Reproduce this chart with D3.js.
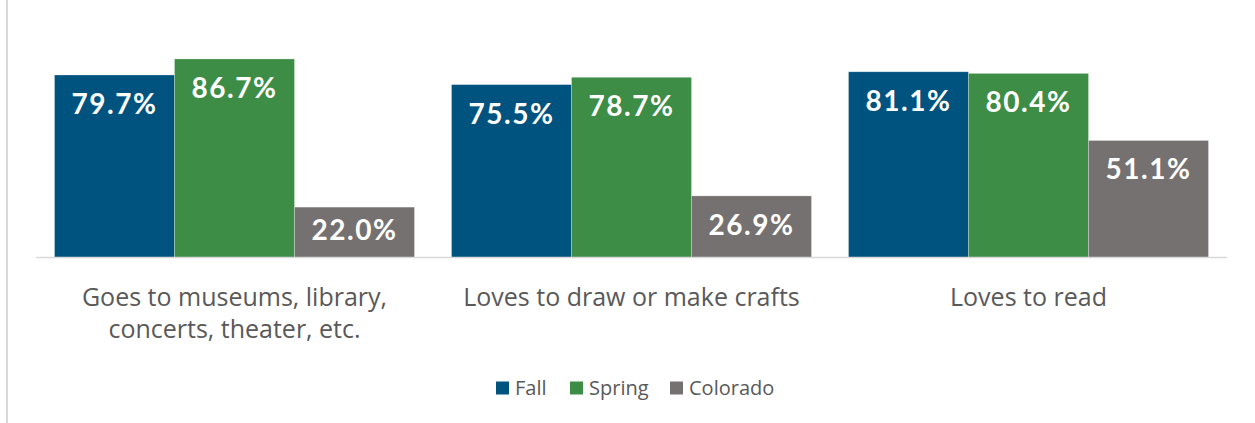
<!DOCTYPE html>
<meta charset="utf-8">
<head>
<title>Activities chart</title>
<style>
body { margin: 0; background: #fff; }
#chart { position: relative; }
</style>
</head>
<body>
<div id="chart"></div>
<script src="https://d3js.org/d3.v7.min.js"></script>
<script>
var categories = [
	["Goes to museums, library,", "concerts, theater, etc."],
	["Loves to draw or make crafts"],
	["Loves to read"]
];
var seriesNames = ["Fall", "Spring", "Colorado"];
var fallValues = [79.7, 75.5, 81.1];
var springValues = [86.7, 78.7, 80.4];
var coloradoValues = [22.0, 26.9, 51.1];
var colors = ["#00537f", "#3e8d47", "#767171"];

var width = 1255,
	height = 423;

var series = [fallValues, springValues, coloradoValues];

var svg = d3.select("#chart").append("svg")
	.attr("width", width)
	.attr("height", height);

// faint frame line on the left edge
svg.append("line")
	.attr("x1", 7).attr("x2", 7)
	.attr("y1", 0).attr("y2", height)
	.attr("stroke", "#d9d9d9")
	.attr("stroke-width", 2);

var x0 = d3.scaleBand()
	.domain(d3.range(categories.length))
	.range([36, 1227])
	.paddingInner(0)
	.paddingOuter(0);

var x1 = d3.scaleBand()
	.domain(d3.range(seriesNames.length))
	.range([18.5, x0.bandwidth() - 18.5]);

var y = d3.scaleLinear()
	.domain([0, 100])
	.range([257.5, 28.5]);

var groups = svg.selectAll(".group")
	.data(categories)
	.enter().append("g")
	.attr("class", "group")
	.attr("transform", function(d, i) { return "translate(" + x0(i) + ",0)"; });

groups.selectAll("rect")
	.data(function(d, i) { return series.map(function(s, j) { return {s: j, v: s[i]}; }); })
	.enter().append("rect")
	.attr("x", function(d) { return x1(d.s); })
	.attr("width", x1.bandwidth())
	.attr("y", function(d) { return y(d.v); })
	.attr("height", function(d) { return y(0) - y(d.v); })
	.attr("fill", function(d) { return colors[d.s]; })
	.attr("stroke", "rgba(255,255,255,0.35)")
	.attr("stroke-width", 0.75);

groups.selectAll(".val")
	.data(function(d, i) { return series.map(function(s, j) { return {s: j, v: s[i]}; }); })
	.enter().append("text")
	.attr("class", "val")
	.attr("x", function(d) { return x1(d.s) + x1.bandwidth() / 2; })
	.attr("y", function(d) { return Math.min(y(d.v) + 39, y(0) - 18); })
	.attr("text-anchor", "middle")
	.attr("fill", "#fff")
	.style("font-family", "Lato, 'DejaVu Sans', sans-serif")
	.style("font-weight", "bold")
	.style("font-size", "28px")
	.style("letter-spacing", "1.5px")
	.text(function(d) { return d.v.toFixed(1) + "%"; });

// axis baseline
svg.append("line")
	.attr("x1", x0.range()[0]).attr("x2", x0.range()[1])
	.attr("y1", y(0)).attr("y2", y(0))
	.attr("stroke", "#d9d9d9")
	.attr("stroke-width", 1.5);

groups.append("text")
	.attr("class", "cat")
	.attr("text-anchor", "middle")
	.attr("fill", "#595959")
	.style("font-family", "'Open Sans', sans-serif")
	.style("font-size", "25px")
	.selectAll("tspan")
	.data(function(d) { return d; })
	.enter().append("tspan")
	.attr("x", x0.bandwidth() / 2)
	.attr("y", function(d, i) { return 306 + i * 32; })
	.text(function(d) { return d; });

// legend
var legendX = [496, 570, 670];
var legend = svg.selectAll(".legend")
	.data(seriesNames)
	.enter().append("g")
	.attr("class", "legend")
	.attr("transform", function(d, i) { return "translate(" + legendX[i] + ",381.5)"; });

legend.append("rect")
	.attr("width", 13)
	.attr("height", 13)
	.attr("fill", function(d, i) { return colors[i]; });

legend.append("text")
	.attr("x", 19)
	.attr("y", 13.5)
	.attr("fill", "#595959")
	.style("font-family", "'Open Sans', sans-serif")
	.style("font-size", "20px")
	.text(function(d) { return d; });
</script>
</body>
